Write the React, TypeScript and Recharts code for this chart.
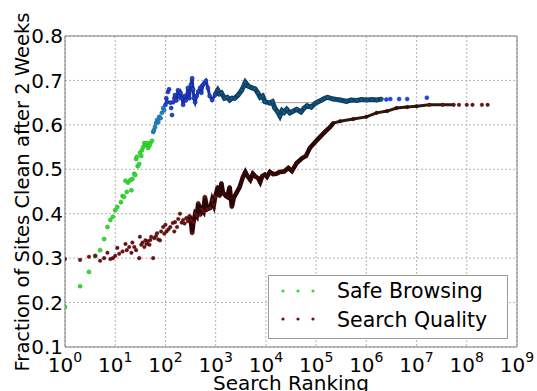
import React from 'react';
import {
  ScatterChart,
  Scatter,
  XAxis,
  YAxis,
  CartesianGrid,
  ReferenceArea,
  ReferenceLine,
} from 'recharts';

// ---- data ----
const sbRank = [
  1, 2, 3, 4, 5, 6, 7, 8, 9, 10,
  11, 13, 14, 15, 16, 17, 18, 20, 21, 22,
  24, 25, 26, 27, 28, 30, 31, 33, 34, 36,
  38, 41, 43, 45, 48, 50, 54, 57, 59, 62,
  65, 68, 72, 75, 80, 85, 90, 94, 100, 104,
  107, 112, 118, 125, 130, 135, 142, 150, 155, 165,
  178, 190, 200, 213, 225, 240, 255, 280, 300, 320,
  340, 355, 370, 390, 420, 450, 490, 520, 560, 600,
  640, 700, 760, 850, 970, 1100, 1200, 1300, 1500, 1700,
  1900, 2100, 2400, 2800, 3300, 3900, 4500, 5300, 6100, 6900,
  7700, 8600, 9600, 12000, 13500, 15000, 17000, 19000, 21000, 23000,
  26000, 30000, 34000, 41000, 50000, 58000, 66000, 80000, 95000, 110000,
  130000, 150000, 170000, 220000, 300000, 400000, 500000, 650000, 800000, 1000000,
  1300000, 1600000, 2000000, 2500000, 3000000, 4500000, 6500000, 16000000,
];
const sbValue = [
  0.19, 0.237, 0.269, 0.305, 0.318, 0.343, 0.37, 0.386, 0.393, 0.408,
  0.415, 0.426, 0.44, 0.438, 0.474, 0.449, 0.47, 0.476, 0.453, 0.478,
  0.49, 0.487, 0.523, 0.528, 0.507, 0.512, 0.537, 0.53, 0.543, 0.55,
  0.559, 0.555, 0.559, 0.548, 0.553, 0.559, 0.564, 0.584, 0.588, 0.595,
  0.604, 0.611, 0.606, 0.618, 0.615, 0.627, 0.638, 0.633, 0.645, 0.66,
  0.652, 0.674, 0.68, 0.65, 0.638, 0.622, 0.651, 0.66, 0.667, 0.655,
  0.678, 0.665, 0.672, 0.66, 0.645, 0.665, 0.655, 0.683, 0.66, 0.69,
  0.705, 0.68, 0.66, 0.651, 0.665, 0.675, 0.683, 0.672, 0.69, 0.695,
  0.699, 0.683, 0.665, 0.656, 0.667, 0.678, 0.67, 0.672, 0.66, 0.662,
  0.656, 0.66, 0.66, 0.667, 0.678, 0.696, 0.687, 0.683, 0.681, 0.672,
  0.662, 0.665, 0.652, 0.649, 0.652, 0.638, 0.63, 0.62, 0.632, 0.628,
  0.635, 0.627, 0.63, 0.635, 0.629, 0.638, 0.643, 0.64, 0.648, 0.652,
  0.656, 0.66, 0.662, 0.658, 0.656, 0.653, 0.656, 0.655, 0.657, 0.656,
  0.657, 0.656, 0.658, 0.657, 0.658, 0.658, 0.658, 0.661,
];

const sqRank = [
  1, 2, 3, 4, 5, 6, 7, 8, 9, 10, 11, 12,
  14, 16, 17, 19, 21, 22, 24, 26,
  30, 31, 33, 35, 38, 40, 42, 45, 48, 50, 52, 57,
  60, 65, 68, 72, 78, 82, 90, 95,
  100, 105, 115, 125, 140, 150, 155, 170, 180, 195,
  210, 225, 240, 260, 280, 300, 320, 340, 360, 390,
  420, 450, 490, 530, 570, 610, 680, 780, 850, 920, 980,
  1100, 1200, 1300, 1400, 1600, 1700, 1900, 2100, 2300, 2600,
  3000, 3500, 3900, 4300, 4900, 5500, 6300, 7000, 7700, 8500,
  9500, 10500, 12000, 14000, 16000, 19000, 23000, 28000, 33000, 41000,
  53000, 63000, 75000, 95000, 120000, 150000, 190000, 220000, 300000, 550000,
  1000000, 1600000, 2600000, 4000000, 6500000, 10000000, 18000000, 33000000, 55000000,
  70000000, 100000000, 130000000, 200000000, 260000000,
];
const sqValue = [
  0.298, 0.296, 0.303, 0.305, 0.294, 0.3, 0.312, 0.298, 0.3, 0.305, 0.323, 0.31,
  0.315, 0.332, 0.318, 0.325, 0.312, 0.335, 0.325, 0.318,
  0.3, 0.348, 0.33, 0.335, 0.325, 0.34, 0.332, 0.338, 0.33, 0.341, 0.348, 0.3,
  0.345, 0.35, 0.356, 0.342, 0.34, 0.36, 0.37, 0.355,
  0.375, 0.36, 0.365, 0.37, 0.379, 0.36, 0.381, 0.37, 0.388, 0.4,
  0.38, 0.386, 0.378, 0.39, 0.383, 0.395, 0.385, 0.356, 0.38, 0.4,
  0.395, 0.424, 0.397, 0.41, 0.405, 0.438, 0.41, 0.413, 0.431, 0.42, 0.438,
  0.46, 0.44, 0.469, 0.447, 0.44, 0.438, 0.46, 0.415, 0.436, 0.447,
  0.46, 0.483, 0.494, 0.485, 0.476, 0.49, 0.483, 0.48, 0.471, 0.485,
  0.488, 0.483, 0.494, 0.489, 0.49, 0.494, 0.495, 0.503, 0.496, 0.514,
  0.525, 0.53, 0.548, 0.561, 0.573, 0.584, 0.595, 0.604, 0.608, 0.613,
  0.618, 0.627, 0.631, 0.638, 0.64, 0.642, 0.645, 0.645, 0.645,
  0.645, 0.645, 0.645, 0.645, 0.645,
];

const seriesNames = ['Safe Browsing', 'Search Quality'];
const xTicks = [1, 10, 100, 1e3, 1e4, 1e5, 1e6, 1e7, 1e8, 1e9];
const yTicks = [0.1, 0.2, 0.3, 0.4, 0.5, 0.6, 0.7, 0.8];

const sbData = sbRank.map((r, i) => ({ x: r, y: sbValue[i] }));
const sqData = sqRank.map((r, i) => ({ x: r, y: sqValue[i] }));

const sbBlueLine = sbData.filter((d) => d.x >= 150 && d.x <= 1100);
const sbTealLine = sbData.filter((d) => d.x >= 970 && d.x <= 2000000);
const sqThickLine = sqData.filter((d) => d.x >= 300 && d.x <= 220000);
const sqThinLine = sqData.filter((d) => d.x >= 220000 && d.x <= 55000000);

const FONT = '"DejaVu Sans", Verdana, sans-serif';

const sbFill = (r: number) => {
  if (r < 56) return '#2ee02e';
  if (r < 100) return '#1b86c4';
  if (r < 1000) return '#1f42d6';
  if (r <= 2000000) return '#16568a';
  return '#2244e0';
};
const sbEdge = (r: number) => {
  if (r < 56) return '#22b022';
  if (r < 100) return '#14608e';
  if (r < 1000) return '#12237a';
  if (r <= 2000000) return '#0b2c48';
  return '#2244e0';
};
const sqFill = (r: number) => {
  if (r < 1000 || r > 10000000) return '#6e1010';
  return '#3a0a08';
};

const SbDot = (p: any) => {
  const r = p.payload.x;
  return (
    <circle cx={p.cx} cy={p.cy} r={2} fill={sbFill(r)} stroke={sbEdge(r)} strokeWidth={0.6} />
  );
};
const SqDot = (p: any) => {
  const r = p.payload.x;
  return <circle cx={p.cx} cy={p.cy} r={1.8} fill={sqFill(r)} stroke="#3a0505" strokeWidth={0.4} />;
};
const NoDot = () => <g />;

const XTick = (p: any) => {
  const v = p.payload.value;
  const e = Math.round(Math.log10(v));
  return (
    <text x={p.x} y={p.y + 25} textAnchor="middle" fontFamily={FONT} fontSize={20} fill="#000">
      <tspan>10</tspan>
      <tspan dy={-10} fontSize={14}>{e}</tspan>
    </text>
  );
};

const YTick = (p: any) => (
  <text x={p.x} y={p.y} dy="0.36em" textAnchor="end" fontFamily={FONT} fontSize={20} fill="#000">
    {Number(p.payload.value).toFixed(1)}
  </text>
);

export default function App() {
  return (
    <div style={{ position: 'absolute', left: 0, top: 0, width: 537, height: 391, background: '#fff' }}>
      <ScatterChart
        width={537}
        height={391}
        margin={{ top: 36, right: 20, bottom: 0, left: 0 }}
      >
        <CartesianGrid stroke="#b4b4b4" strokeDasharray="2 2" />
        <XAxis
          type="number"
          dataKey="x"
          scale="log"
          domain={[1, 1e9]}
          ticks={xTicks}
          allowDataOverflow
          height={44}
          tickSize={0}
          tickMargin={0}
          axisLine={false}
          tickLine={false}
          tick={<XTick />}
          interval={0}
          label={() => (
            <text x={291} y={390} textAnchor="middle" fontFamily={FONT} fontSize={20} fill="#000">
              Search Ranking
            </text>
          )}
        />
        <YAxis
          type="number"
          dataKey="y"
          domain={[0.1, 0.8]}
          ticks={yTicks}
          allowDataOverflow
          width={65}
          tickSize={0}
          tickMargin={2}
          axisLine={false}
          tickLine={false}
          tick={<YTick />}
          interval={0}
          label={() => (
            <text
              x={29}
              y={192}
              transform="rotate(-90 29 192)"
              textAnchor="middle"
              fontFamily={FONT}
              fontSize={19.5}
              fill="#000"
            >
              Fraction of Sites Clean after 2 Weeks
            </text>
          )}
        />
        <ReferenceLine
          segment={[{ x: 8000, y: 0.65 }, { x: 90000, y: 0.65 }]}
          stroke="#a0a0a0"
          strokeWidth={1}
        />
        <Scatter name={seriesNames[0] + ' band'} data={sbBlueLine} line={{ stroke: '#1a34a8', strokeWidth: 3 }} shape={NoDot} isAnimationActive={false} />
        <Scatter name={seriesNames[0] + ' trend'} data={sbTealLine} line={{ stroke: '#0f4c66', strokeWidth: 5 }} shape={NoDot} isAnimationActive={false} />
        <Scatter name={seriesNames[0]} data={sbData} shape={SbDot} isAnimationActive={false} />
        <Scatter name={seriesNames[1] + ' band'} data={sqThickLine} line={{ stroke: '#2a0606', strokeWidth: 4.5 }} shape={NoDot} isAnimationActive={false} />
        <Scatter name={seriesNames[1] + ' trend'} data={sqThinLine} line={{ stroke: '#2a1a0a', strokeWidth: 3 }} shape={NoDot} isAnimationActive={false} />
        <Scatter name={seriesNames[1]} data={sqData} shape={SqDot} isAnimationActive={false} />
        <ReferenceArea x1={1} x2={1e9} y1={0.1} y2={0.8} fill="none" stroke="#808080" strokeWidth={1} ifOverflow="visible" />
      </ScatterChart>
      <svg
        width={537}
        height={391}
        style={{ position: 'absolute', left: 0, top: 0, pointerEvents: 'none' }}
      >
        <rect x={268.5} y={275.5} width={239} height={63} fill="#fff" stroke="#9a9a9a" strokeWidth={1} />
        {[283, 298, 313].map((cx) => (
          <circle key={'a' + cx} cx={cx} cy={291} r={1.6} fill="#2ee02e" />
        ))}
        {[283, 298, 313].map((cx) => (
          <circle key={'b' + cx} cx={cx} cy={319} r={1.6} fill="#6e1010" />
        ))}
        <text x={337} y={298} fontFamily={FONT} fontSize={20.5} fill="#000">
          {seriesNames[0]}
        </text>
        <text x={337} y={327} fontFamily={FONT} fontSize={20.5} fill="#000">
          {seriesNames[1]}
        </text>
      </svg>
    </div>
  );
}
